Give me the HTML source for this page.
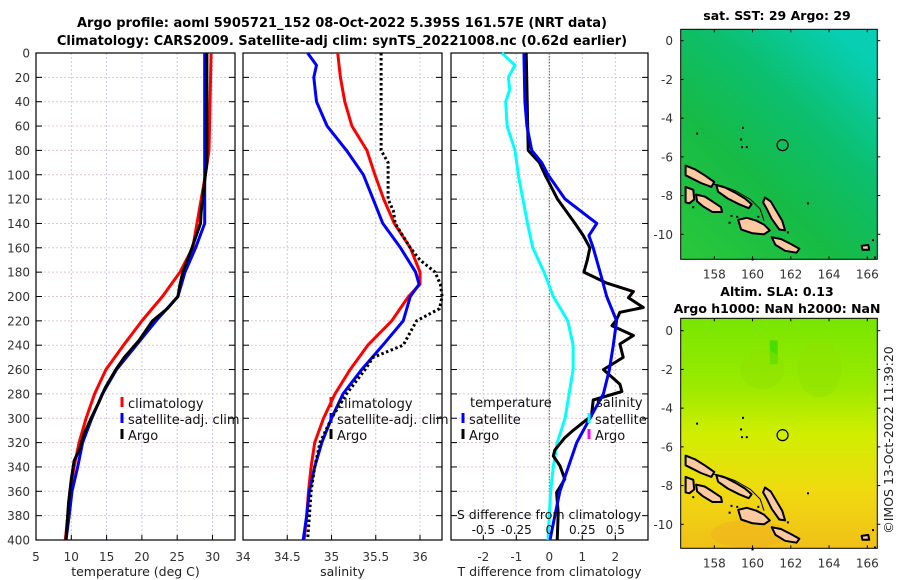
<!DOCTYPE html>
<html><head><meta charset="utf-8"><style>
html,body{margin:0;padding:0;background:#fff;}
svg{display:block;font-family:"DejaVu Sans","Liberation Sans",sans-serif;}
</style></head><body>
<svg id="fig" width="900" height="580" viewBox="0 0 900 580" xmlns="http://www.w3.org/2000/svg">
<defs>
<linearGradient id="sstGrad" x1="0" y1="1" x2="0.8" y2="0">
<stop offset="0" stop-color="#2ac83a"/><stop offset="0.4" stop-color="#16bb46"/><stop offset="0.7" stop-color="#0cbf70"/><stop offset="1" stop-color="#08cfb4"/>
</linearGradient>
<linearGradient id="slaGrad" x1="0" y1="0" x2="0" y2="1">
<stop offset="0" stop-color="#78e600"/><stop offset="0.3" stop-color="#9cea00"/><stop offset="0.5" stop-color="#d0ee00"/><stop offset="0.75" stop-color="#f0da10"/><stop offset="1" stop-color="#f0c018"/>
</linearGradient>
</defs>
<text x="342" y="27" text-anchor="middle" font-size="13" font-weight="bold">Argo profile: aoml 5905721_152 08-Oct-2022 5.395S 161.57E (NRT data)</text>
<text x="342" y="45" text-anchor="middle" font-size="13" font-weight="bold">Climatology: CARS2009. Satellite-adj clim: synTS_20221008.nc (0.62d earlier)</text>
<g id="panels"></g>
<text transform="translate(893,440) rotate(-90)" text-anchor="middle" font-size="12.5" fill="#222">©IMOS 13-Oct-2022 11:39:20</text>
</svg>
<script>
// ---- data: temperature panel ----
const tClimDepth=[0,80,100,120,140,160,180,200,220,240,260,280,300,320,340,360,380,400];
const tClim=[29.8,29.5,29.0,28.4,27.8,27.2,25.4,22.9,20.0,17.4,14.9,13.3,12.1,11.1,10.4,9.8,9.5,9.15];
const tSatDepth=[0,140,160,180,200,220,240,260,280,300,320,340,360,380,400];
const tSat=[28.9,28.9,27.6,26.1,25.1,22.0,19.2,16.4,14.4,12.9,11.6,10.9,10.1,9.7,9.25];
const tArgoDepth=[0,90,100,120,130,140,160,180,190,200,210,220,236,250,260,275,287,300,313,325,335,350,370,400];
const tArgo=[29.2,29.2,29.0,28.6,28.4,28.3,27.1,25.8,25.4,25.1,23.6,21.5,19.6,17.5,16.3,14.8,13.9,12.8,11.8,11.2,10.4,10.0,9.6,9.25];
// ---- data: salinity panel ----
const sClimDepth=[0,20,40,60,80,100,120,140,160,180,190,200,220,240,260,280,300,320,340,360,380,400];
const sClim=[35.07,35.10,35.15,35.23,35.40,35.49,35.59,35.71,35.89,36.0,36.0,35.87,35.68,35.41,35.21,35.04,34.91,34.81,34.77,34.74,34.72,34.69];
const sSatDepth=[0,10,20,40,60,80,100,120,140,160,180,190,200,220,240,260,280,300,320,340,360,380,400];
const sSat=[34.73,34.83,34.80,34.83,34.95,35.17,35.36,35.47,35.58,35.78,35.95,35.99,35.89,35.81,35.58,35.34,35.13,35.0,34.89,34.81,34.75,34.72,34.68];
const sArgoDepth=[0,80,90,100,120,130,140,160,170,180,190,200,210,220,240,250,260,280,300,320,340,360,380,400];
const sArgo=[35.56,35.56,35.64,35.64,35.64,35.70,35.72,35.89,36.0,36.17,36.23,36.25,36.22,35.96,35.81,35.47,35.38,35.17,35.0,34.87,34.81,34.77,34.75,34.73];
// ---- data: difference panel ----
const dSatSDepth=[0,10,20,30,40,60,80,100,120,140,160,180,200,220,240,260,280,300,320,340,360,380,400];
const dSatS=[-0.36,-0.26,-0.31,-0.30,-0.33,-0.32,-0.26,-0.235,-0.20,-0.165,-0.125,-0.04,0.03,0.14,0.18,0.18,0.15,0.12,0.06,0.03,0.01,0,-0.01];
const dSatTDepth=[0,40,60,80,90,100,120,140,150,160,180,200,220,240,260,280,300,320,340,360,380,400];
const dSatT=[-0.77,-0.74,-0.68,-0.53,-0.23,-0.04,0.48,1.44,1.2,1.33,1.54,1.74,2.04,1.94,1.82,1.64,1.23,0.83,0.58,0.32,0.17,0.02];
const dArgoTDepth=[0,80,90,100,120,140,150,160,170,180,189,196,201,209,213,219,224,232,239,250,260,272,278,285,298,310,316,326,331,339,350,361,378,400];
const dArgoT=[-0.7,-0.64,-0.3,-0.13,0.25,0.78,1.03,1.23,1.15,1.05,1.74,2.55,2.4,2.85,2.14,2.04,1.9,2.55,2.14,2.24,1.64,2.14,2.2,1.33,1.28,0.72,0.47,0.17,0.12,0.32,0.47,0.22,0.27,0.24];
// ---- tick labels ----
const depthTicks=[0,20,40,60,80,100,120,140,160,180,200,220,240,260,280,300,320,340,360,380,400];
const tTicks=[5,10,15,20,25,30];
const sTicks=[34,34.5,35,35.5,36];
const dTTicks=[-2,-1,0,1,2];
const dSTicks=[-0.5,-0.25,0,0.25,0.5];
const lonTicks=[158,160,162,164,166];
const latTicks=[0,-2,-4,-6,-8,-10];
const argoLon=161.57, argoLat=-5.395;

const NS="http://www.w3.org/2000/svg";
const root=document.getElementById('panels');
function mk(tag,attrs,parent){const e=document.createElementNS(NS,tag);for(const k in attrs)e.setAttribute(k,attrs[k]);(parent||root).appendChild(e);return e;}
const Y0=53,Y1=540;
const yD=d=>Y0+(Y1-Y0)*d/400;
function lin(d0,d1,r0,r1){return v=>r0+(v-d0)*(r1-r0)/(d1-d0);}

function panel(name,x0,x1,xs,xticks,xlabel,fmt,showY){
  const g=mk('g',{});
  
  
  xticks.forEach(v=>{const x=xs(v);
    const l=mk('line',{x1:x,x2:x,y1:Y0,y2:Y1,stroke:'#c6c9ea','stroke-width':1,'stroke-dasharray':'2,2'},g);
    
    mk('line',{x1:x,x2:x,y1:Y1,y2:Y1-5,stroke:'#000'},g);
    const t=mk('text',{x:x,y:561,'text-anchor':'middle','font-size':12,fill:'#333'},g);t.textContent=fmt(v);
    
  });
  depthTicks.forEach(d=>{const y=yD(d);
    mk('line',{x1:x0,x2:x1,y1:y,y2:y,stroke:'#e0c8d0','stroke-width':1,'stroke-dasharray':'2,2'},g);
    mk('line',{x1:x0,x2:x0+6,y1:y,y2:y,stroke:'#000'},g);
    mk('line',{x1:x1,x2:x1-6,y1:y,y2:y,stroke:'#000'},g);
    if(showY){const t=mk('text',{x:30,y:y+4.5,'text-anchor':'end','font-size':12,fill:'#333'},g);t.textContent=d;
      }
  });
  const f=mk('rect',{x:x0,y:Y0,width:x1-x0,height:Y1-Y0,fill:'none',stroke:'#000','stroke-width':1.2},g);
  
  const xl=mk('text',{x:(x0+x1)/2,y:576,'text-anchor':'middle','font-size':12.5,fill:'#222'},g);xl.textContent=xlabel;
  
  return g;
}
function series(g,depths,vals,xs,color,nm,dash){
  const pts=depths.map((d,i)=>xs(vals[i]).toFixed(1)+','+yD(d).toFixed(1)).join(' ');
  const p=mk('polyline',{points:pts,fill:'none',stroke:color,'stroke-width':3,'stroke-linejoin':'round'},g);
  if(dash)p.setAttribute('stroke-dasharray',dash);
  
  
}
function legend(g,x,y,color,label,nm){
  mk('line',{x1:x,x2:x,y1:y-11,y2:y-1,stroke:color,'stroke-width':3},g);
  const t=mk('text',{x:x+6,y:y,'font-size':13,fill:'#111'},g);t.textContent=label;
  
}

// Panel 1
const xT=lin(5,30,36,212.5);
const g1=panel('temperature-panel',36,235,xT,tTicks,'temperature (deg C)',v=>v,true);
series(g1,tClimDepth,tClim,xT,'#ff0000','climatology-temp-line');
series(g1,tSatDepth,tSat,xT,'#0000ff','satellite-temp-line');
series(g1,tArgoDepth,tArgo,xT,'#000000','argo-temp-line');
legend(g1,122,408,'#ff0000','climatology','legend-climatology');
legend(g1,122,424,'#0000ff','satellite-adj. clim','legend-satellite');
legend(g1,122,440,'#000000','Argo','legend-argo');
// Panel 2
const xS=lin(34,36,243,420);
const g2=panel('salinity-panel',243,442,xS,sTicks,'salinity',v=>v,false);
series(g2,sClimDepth,sClim,xS,'#ff0000','climatology-salinity-line');
series(g2,sSatDepth,sSat,xS,'#0000ff','satellite-salinity-line');
series(g2,sArgoDepth,sArgo,xS,'#000000','argo-salinity-line','2.5,2.5');
legend(g2,331,408,'#ff0000','climatology','legend-climatology-s');
legend(g2,331,424,'#0000ff','satellite-adj. clim','legend-satellite-s');
legend(g2,331,440,'#000000','Argo','legend-argo-s');
// Panel 3
const xDT=lin(0,1,549.3,582.3);
const xDS=lin(0,0.25,549.3,582.3);
const g3=panel('difference-panel',451,648,xDT,dTTicks,'T difference from climatology',v=>v,false);
const z=mk('line',{x1:xDT(0),x2:xDT(0),y1:Y0,y2:Y1,stroke:'#556b2f','stroke-width':1,'stroke-dasharray':'1.5,1.5'},g3);

series(g3,dSatSDepth,dSatS,xDS,'#00ffff','satellite-salinity-diff-line');
series(g3,dArgoTDepth,dArgoT,xDT,'#000000','argo-temp-diff-line');
series(g3,dSatTDepth,dSatT,xDT,'#0000ff','satellite-temp-diff-line');
const lt=mk('text',{x:470,y:407,'font-size':13,fill:'#111'},g3);lt.textContent='temperature';

const ls=mk('text',{x:596,y:407,'font-size':13,fill:'#111'},g3);ls.textContent='salinity';

legend(g3,463,424,'#0000ff','satellite','legend-temp-satellite');
legend(g3,463,440,'#000000','Argo','legend-temp-argo');
legend(g3,589,424,'#00ffff','satellite','legend-sal-satellite');
legend(g3,589,440,'#ff00ff','Argo','legend-sal-argo');
const st=mk('text',{x:549,y:519,'text-anchor':'middle','font-size':12.5,fill:'#111'},g3);st.textContent='S difference from climatology';

dSTicks.forEach(v=>{const t=mk('text',{x:xDS(v),y:534,'text-anchor':'middle','font-size':12,fill:'#111'},g3);t.textContent=v;
  });

// Maps
const islands=[
 [[156.5,-6.45],[157.0,-6.65],[157.5,-6.95],[158.0,-7.3],[157.85,-7.55],[157.3,-7.35],[156.8,-7.1],[156.5,-6.95]],
 [[158.1,-7.45],[158.6,-7.6],[159.1,-7.85],[159.6,-8.15],[159.95,-8.45],[159.8,-8.65],[159.3,-8.45],[158.7,-8.15],[158.2,-7.8]],
 [[160.65,-8.1],[160.95,-8.3],[161.25,-8.8],[161.55,-9.3],[161.7,-9.8],[161.4,-9.75],[161.0,-9.2],[160.75,-8.7],[160.55,-8.35]],
 [[159.25,-9.25],[159.7,-9.15],[160.2,-9.3],[160.6,-9.5],[160.9,-9.8],[160.6,-10.0],[160.0,-9.95],[159.4,-9.75]],
 [[161.0,-10.15],[161.5,-10.25],[162.0,-10.5],[162.45,-10.75],[162.3,-10.95],[161.7,-10.85],[161.2,-10.55]],
 [[157.05,-7.95],[157.5,-8.05],[157.9,-8.3],[158.35,-8.6],[158.4,-8.85],[157.9,-8.85],[157.4,-8.55],[157.1,-8.3]],
 [[156.5,-7.55],[156.9,-7.7],[156.95,-8.2],[156.7,-8.4],[156.5,-8.35]],
 [[165.7,-10.6],[166.05,-10.55],[166.1,-10.8],[165.75,-10.8]]
];
const dots=[[157.1,-4.8],[159.5,-4.5],[159.4,-5.1],[159.45,-5.5],[159.7,-5.5],[162.9,-8.4],[160.3,-9.1],[158.9,-9.05],[159.2,-9.1],[161.85,-9.9],[166.3,-10.3],[166.4,-11.2],[160.0,-11.3],[158.8,-9.4],[156.9,-8.6]];
function map(name,top,bottom,lat0y,fill,title,extra){
  const g=mk('g',{});
  
  
  const X0=680.7,X1=877.3;
  const xL=lin(158,166,714.3,867.3), yL=lin(0,-10,lat0y,lat0y+193.6);
  mk('rect',{x:X0,y:top,width:X1-X0,height:bottom-top,fill:fill},g);
  if(extra)extra(g,xL,yL);
  mk('polyline',{points:[[157.9,-7.4],[158.4,-7.5],[159.1,-7.75],[159.9,-8.2],[160.4,-8.7],[160.6,-9.3]].map(q=>xL(q[0]).toFixed(1)+','+yL(q[1]).toFixed(1)).join(' '),fill:'none',stroke:'#000','stroke-width':1},g);
  islands.forEach(is=>{
    const p=mk('polygon',{points:is.map(q=>xL(q[0]).toFixed(1)+','+yL(q[1]).toFixed(1)).join(' '),fill:'#fcc9a0',stroke:'#000','stroke-width':2,'stroke-linejoin':'round'},g);
    
  });
  dots.forEach(q=>mk('rect',{x:xL(q[0])-1,y:yL(q[1])-1,width:2,height:2,fill:'#000'},g));
  const c=mk('circle',{cx:xL(argoLon),cy:yL(argoLat),r:5.5,fill:'none',stroke:'#000','stroke-width':1.2},g);
  
  mk('rect',{x:X0,y:top,width:X1-X0,height:bottom-top,fill:'none',stroke:'#000','stroke-width':1},g);
  lonTicks.forEach(v=>{const x=xL(v);mk('line',{x1:x,x2:x,y1:bottom,y2:bottom-3,stroke:'#000'},g);mk('line',{x1:x,x2:x,y1:top,y2:top+3,stroke:'#000'},g);
    const t=mk('text',{x:x,y:bottom+19,'text-anchor':'middle','font-size':12,fill:'#333'},g);t.textContent=v;
    });
  latTicks.forEach(v=>{const y=yL(v);mk('line',{x1:X0,x2:X0+3,y1:y,y2:y,stroke:'#000'},g);mk('line',{x1:X1,x2:X1+3,y1:y,y2:y,stroke:'#000'},g);
    const t=mk('text',{x:673,y:y+4.5,'text-anchor':'end','font-size':12,fill:'#333'},g);t.textContent=v;
    });
  title.forEach((s,i)=>{const t=mk('text',{x:777,y:s[1],'text-anchor':'middle','font-size':12.5,'font-weight':'bold'},g);t.textContent=s[0];
    });
}
map('sst-map',29.3,259.3,40.7,'url(#sstGrad)',[['sat. SST: 29 Argo: 29',20]]);
map('sla-map',318.3,548.3,330.7,'url(#slaGrad)',[['Altim. SLA: 0.13',296],['Argo h1000: NaN h2000: NaN',313]],(g,xL,yL)=>{
  mk('rect',{x:xL(160.9),y:yL(-0.5),width:8,height:24,fill:'#3cd800',opacity:0.8},g);
  mk('ellipse',{cx:xL(160.5),cy:yL(-2.0),rx:22,ry:20,fill:'#8ee200',opacity:0.5},g);
  mk('ellipse',{cx:xL(163.5),cy:yL(-2.0),rx:22,ry:28,fill:'#8ee200',opacity:0.5},g);
  mk('ellipse',{cx:xL(159.8),cy:yL(-10.5),rx:38,ry:14,fill:'#f0b020',opacity:0.5},g);
});
</script>
</body></html>
